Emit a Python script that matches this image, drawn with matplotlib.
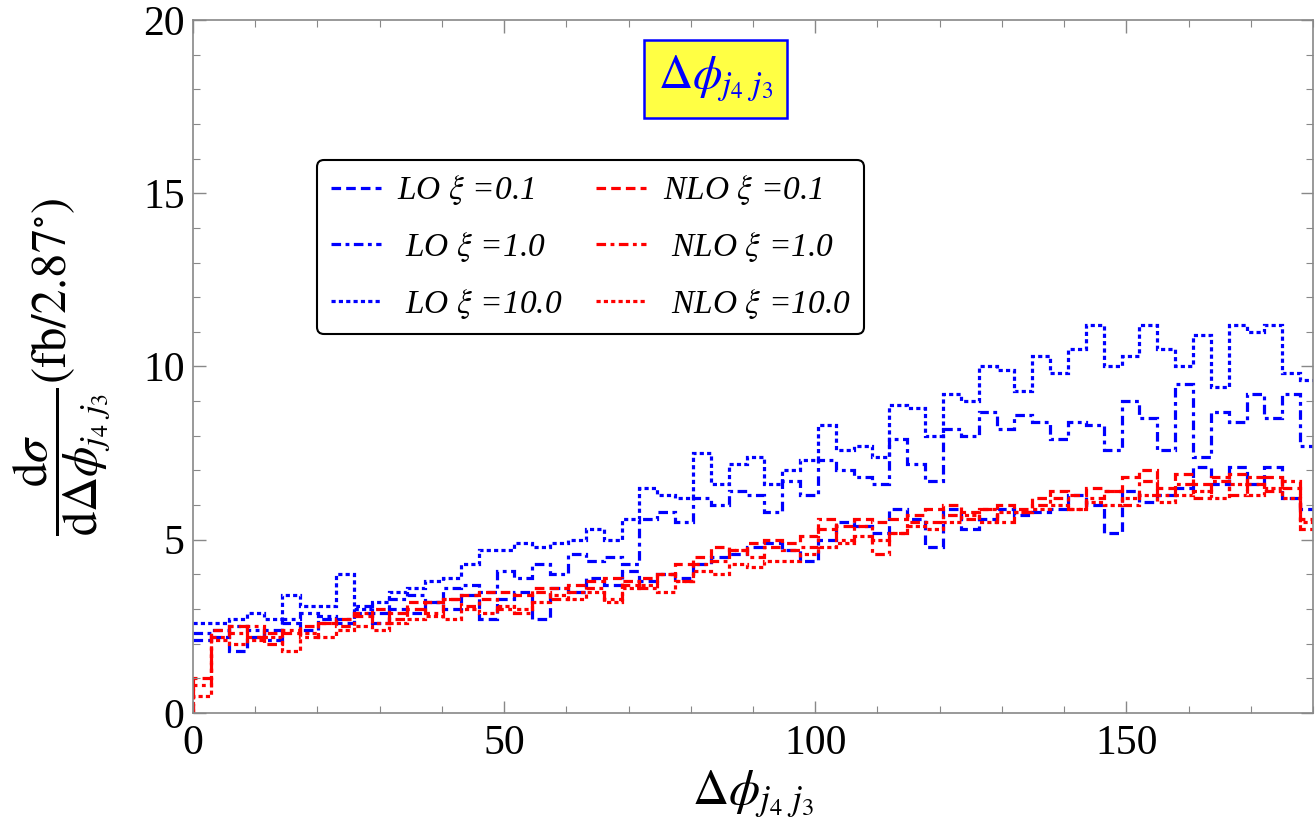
import numpy as np
import matplotlib
matplotlib.use("Agg")
import matplotlib.pyplot as plt
from matplotlib.ticker import MultipleLocator

plt.rcParams['font.family'] = ['Liberation Serif', 'DejaVu Serif']
plt.rcParams['mathtext.fontset'] = 'stix'

# bin width 2.87 degrees
bin_width = 2.87
n_bins = 63

lo_01 = [2.1, 2.4, 1.8, 2.2, 2.4, 2.6, 2.4, 2.7, 2.6, 2.9, 2.6, 3.0, 2.9, 3.2, 3.0, 3.4,
         2.7, 3.3, 3.5, 2.7, 3.6, 3.5, 3.9, 3.7, 4.1, 3.8, 4.0, 3.9, 4.3, 4.5, 4.6, 4.8,
         4.9, 4.7, 4.4, 5.0, 5.5, 5.4, 5.2, 5.9, 5.6, 4.8, 5.9, 5.3, 5.6, 5.9, 5.7, 5.8,
         5.9, 6.3, 6.0, 5.2, 6.4, 6.1, 6.3, 6.5, 7.1, 6.6, 7.1, 6.6, 7.1, 6.2, 5.9]
lo_1 = [2.3, 2.2, 2.5, 2.4, 2.1, 2.7, 2.9, 2.8, 2.7, 3.1, 2.9, 3.3, 3.4, 3.2, 3.6, 3.7,
        3.5, 4.1, 3.9, 4.3, 4.0, 4.6, 4.4, 4.5, 4.3, 5.6, 5.8, 5.5, 6.2, 6.0, 6.4, 6.3,
        5.8, 6.7, 6.3, 7.3, 7.0, 6.8, 6.6, 7.9, 7.2, 6.7, 8.2, 8.0, 8.7, 8.2, 8.6, 8.4,
        7.9, 8.4, 8.3, 7.6, 9.0, 8.5, 7.6, 9.5, 7.4, 8.7, 8.4, 9.2, 8.5, 9.2, 7.7]
lo_10 = [2.6, 2.6, 2.7, 2.9, 2.7, 3.4, 3.1, 3.1, 4.0, 3.0, 3.2, 3.5, 3.6, 3.8, 3.9, 4.3,
         4.7, 4.7, 4.9, 4.8, 4.9, 5.0, 5.3, 5.0, 5.6, 6.5, 6.3, 6.2, 7.5, 6.6, 7.2, 7.4,
         6.6, 7.0, 7.3, 8.3, 7.6, 7.7, 7.4, 8.9, 8.8, 8.0, 9.2, 9.0, 10.0, 9.9, 9.3, 10.3,
         9.8, 10.5, 11.2, 10.0, 10.3, 11.2, 10.5, 10.0, 10.9, 9.4, 11.2, 11.0, 11.2, 9.8, 9.6]
nlo_01 = [1.0, 2.4, 2.5, 2.2, 2.3, 2.3, 2.5, 2.6, 2.7, 2.8, 3.0, 2.7, 3.0, 3.2, 3.3, 3.4,
          3.5, 3.5, 3.4, 3.6, 3.6, 3.7, 3.8, 3.9, 3.7, 3.9, 4.0, 4.3, 4.5, 4.8, 4.7, 4.9,
          5.0, 4.9, 5.1, 5.3, 5.4, 5.6, 5.5, 5.6, 5.7, 5.9, 6.0, 5.8, 5.9, 6.0, 5.9, 6.2,
          6.4, 6.3, 6.5, 6.4, 6.8, 7.0, 6.5, 6.9, 6.6, 6.8, 6.9, 6.6, 6.8, 6.5, 5.6]
nlo_1 = [0.8, 2.2, 2.3, 2.5, 2.0, 2.4, 2.2, 2.6, 2.5, 2.9, 2.6, 2.9, 3.2, 2.9, 3.3, 3.1,
         3.3, 3.0, 2.9, 3.5, 3.3, 3.5, 3.6, 3.3, 3.8, 3.6, 4.0, 3.8, 4.3, 4.4, 4.7, 4.5,
         4.8, 4.7, 4.8, 5.6, 5.0, 5.4, 4.6, 5.2, 5.5, 5.5, 5.7, 5.6, 5.9, 5.5, 5.8, 6.0,
         6.2, 5.9, 6.2, 6.4, 6.0, 6.7, 6.3, 6.6, 6.2, 6.7, 6.3, 6.8, 6.4, 6.7, 5.3]
nlo_10 = [0.5, 2.1, 2.0, 2.1, 2.2, 1.8, 2.3, 2.2, 2.4, 2.5, 2.4, 2.6, 2.7, 2.8, 2.7, 3.0,
          2.9, 3.1, 3.0, 3.2, 3.4, 3.3, 3.5, 3.2, 3.6, 3.7, 3.5, 3.8, 4.1, 4.0, 4.3, 4.2,
          4.4, 4.4, 4.6, 4.8, 4.9, 5.1, 5.0, 5.2, 5.4, 5.3, 5.5, 5.7, 5.5, 5.8, 5.8, 5.9,
          6.0, 5.9, 6.1, 6.0, 6.2, 6.3, 6.1, 6.3, 6.4, 6.2, 6.6, 6.3, 6.5, 6.2, 5.5]

labels_lo = [r'LO $\xi$ =0.1', r' LO $\xi$ =1.0', r' LO $\xi$ =10.0']
labels_nlo = [r'NLO $\xi$ =0.1', r' NLO $\xi$ =1.0', r' NLO $\xi$ =10.0']

edges = np.arange(n_bins + 1) * bin_width

styles = [(0, (3.0, 1.6)), (0, (3.0, 1.4, 1.2, 1.4)), (0, (1.3, 1.0))]
lw = 2.3

fig = plt.figure(figsize=(13.15, 8.4), dpi=100)
ax = fig.add_axes([0.1468, 0.1512, 0.8517, 0.825])

handles = []
for vals, ls, lab in zip([lo_01, lo_1, lo_10], styles, labels_lo):
    h = ax.stairs(vals, edges, baseline=None, color='#0000ff', lw=lw, linestyle=ls, label=lab)
    handles.append(h)
for vals, ls, lab in zip([nlo_01, nlo_1, nlo_10], styles, labels_nlo):
    h = ax.stairs(vals, edges, baseline=0, color='#ff0000', lw=lw, linestyle=ls, label=lab)
    handles.append(h)

ax.set_xlim(0, 180)
ax.set_ylim(0, 20)
ax.xaxis.set_major_locator(MultipleLocator(50))
ax.xaxis.set_minor_locator(MultipleLocator(10))
ax.yaxis.set_major_locator(MultipleLocator(5))
ax.yaxis.set_minor_locator(MultipleLocator(1))
ax.tick_params(which='both', direction='in', top=True, right=True, color='#888888',
               labelsize=30)
ax.tick_params(axis='x', pad=8)
ax.tick_params(axis='y', pad=6)
ax.tick_params(which='major', length=9, width=1)
ax.tick_params(which='minor', length=5, width=0.8)
for s in ax.spines.values():
    s.set_color('#888888')
    s.set_linewidth(1.2)

ax.set_xlabel(r'$\Delta\phi_{j_4\ j_3}$', fontsize=36, labelpad=4)
ax.set_ylabel(r'$\dfrac{\mathrm{d}\sigma}{\mathrm{d}\Delta\phi_{j_4\ j_3}}(\mathrm{fb}/2.87^{\circ})$',
              fontsize=35, labelpad=22)

ax.text(84, 18.3, r'$\Delta\phi_{j_4\ j_3}$', color='#0000ff', fontsize=34,
        ha='center', va='center',
        bbox=dict(boxstyle='square,pad=0.3', fc='#ffff44', ec='#0000ff', lw=1.8))

leg = ax.legend(handles=handles, ncol=2,
                loc='upper left', bbox_to_anchor=(0.111, 0.798), borderaxespad=0,
                prop={'family': 'Liberation Serif', 'style': 'italic', 'size': 24},
                handlelength=1.5, handletextpad=0.5, columnspacing=1.0,
                labelspacing=0.68, frameon=True, fancybox=True, edgecolor='black',
                framealpha=1, borderpad=0.4)
leg.get_frame().set_linewidth(1.5)

fig.savefig('out.png', dpi=100)
